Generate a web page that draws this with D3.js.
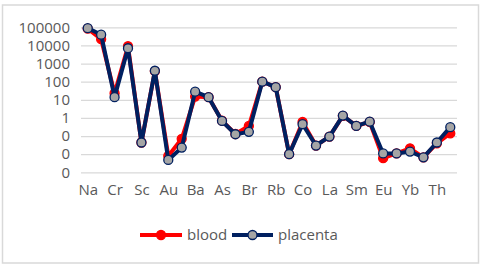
<!DOCTYPE html>
<html>
<head>
<meta charset="utf-8">
<script src="https://cdn.jsdelivr.net/npm/d3@7"></script>
<style>
  body { margin: 0; background: #fff; }
  text { font-family: "Open Sans", "DejaVu Sans", sans-serif; fill: #595959; }
</style>
</head>
<body>
<div id="chart"></div>
<script>
const WIDTH = 480;
const HEIGHT = 268;

// element names (only every other one gets a label on the axis)
const elements = ["Na", "K", "Cr", "Fe", "Sc", "Zn", "Au", "Se", "Ba", "Sb", "As", "Hg", "Br", "Ag",
                  "Rb", "Cs", "Co", "Ce", "La", "Nd", "Sm", "Tb", "Eu", "Lu", "Yb", "Hf", "Th", "U"];
const blood = [85000, 22000, 23, 9000, 0.044, 380, 0.008, 0.07, 15, 14, 0.7, 0.13, 0.36, 100,
               50, 0.01, 0.6, 0.03, 0.093, 1.3, 0.36, 0.6, 0.006, 0.011, 0.021, 0.0067, 0.04, 0.14];
const placenta = [90000, 39000, 14, 7000, 0.044, 400, 0.0048, 0.023, 28, 14, 0.68, 0.126, 0.17, 100,
                  50, 0.01, 0.45, 0.03, 0.093, 1.35, 0.36, 0.62, 0.011, 0.011, 0.014, 0.0067, 0.044, 0.31];
const yTicks = [0.001, 0.01, 0.1, 1, 10, 100, 1000, 10000, 100000];

const PLOT = {left: 81, right: 457, top: 27.3, bottom: 172.3};

const svg = d3.select("#chart")
  .append("svg")
    .attr("width", WIDTH)
    .attr("height", HEIGHT);

// outer chart border
svg.append("rect")
  .attr("x", 2.5).attr("y", 5)
  .attr("width", 476).attr("height", 258)
  .attr("fill", "#fff")
  .attr("stroke", "#d9d9d9")
  .attr("stroke-width", 1.5);

const x = d3.scalePoint()
  .domain(elements)
  .range([PLOT.left, PLOT.right])
  .padding(0.5);

const y = d3.scaleLog()
  .domain([0.001, 100000])
  .range([PLOT.bottom, PLOT.top]);

// gridlines + y labels
const yAxis = svg.append("g")
  .attr("transform", "translate(" + PLOT.left + ",0)")
  .call(d3.axisLeft(y)
    .tickValues(yTicks)
    .tickFormat(d3.format(".0f"))
    .tickSize(-(PLOT.right - PLOT.left))
    .tickPadding(11));
yAxis.select(".domain").remove();
yAxis.selectAll("line").attr("stroke", "#d9d9d9").attr("stroke-width", 1.2);
yAxis.selectAll("text").style("font-size", "15px").attr("fill", "#595959");

// x labels, every other category
const xAxis = svg.append("g")
  .attr("transform", "translate(0," + PLOT.bottom + ")")
  .call(d3.axisBottom(x)
    .tickValues(elements.filter((d, i) => i % 2 === 0))
    .tickSize(0)
    .tickPadding(12));
xAxis.select(".domain").remove();
xAxis.selectAll("text").style("font-size", "15px").attr("fill", "#595959");

const series = [
  {name: "blood", values: blood, line: "#ff0000", fill: "#ff0000"},
  {name: "placenta", values: placenta, line: "#002060", fill: "#a5a5a5"}
];

const line = d3.line()
  .x((d, i) => x(elements[i]))
  .y(d => y(d));

series.forEach(s => {
  svg.append("path")
    .datum(s.values)
    .attr("d", line)
    .attr("fill", "none")
    .attr("stroke", s.line)
    .attr("stroke-width", 4)
    .attr("stroke-linejoin", "round");
  svg.selectAll(".pt-" + s.name)
    .data(s.values)
    .enter()
    .append("circle")
      .attr("cx", (d, i) => x(elements[i]))
      .attr("cy", d => y(d))
      .attr("r", 4.5)
      .attr("fill", s.fill)
      .attr("stroke", s.line)
      .attr("stroke-width", 1.3);
});

// legend
const legend = svg.append("g").attr("transform", "translate(0,235)");
const legendItems = [
  {s: series[0], x0: 140, x1: 182, tx: 187},
  {s: series[1], x0: 232, x1: 273, tx: 278}
];
legendItems.forEach(li => {
  legend.append("line")
    .attr("x1", li.x0).attr("x2", li.x1)
    .attr("y1", 0).attr("y2", 0)
    .attr("stroke", li.s.line)
    .attr("stroke-width", 4);
  legend.append("circle")
    .attr("cx", (li.x0 + li.x1) / 2).attr("cy", 0)
    .attr("r", 4.5)
    .attr("fill", li.s.fill)
    .attr("stroke", li.s.line)
    .attr("stroke-width", 1.3);
  legend.append("text")
    .attr("x", li.tx).attr("y", 0)
    .attr("dy", "0.35em")
    .style("font-size", "15px")
    .text(li.s.name);
});
</script>
</body>
</html>
